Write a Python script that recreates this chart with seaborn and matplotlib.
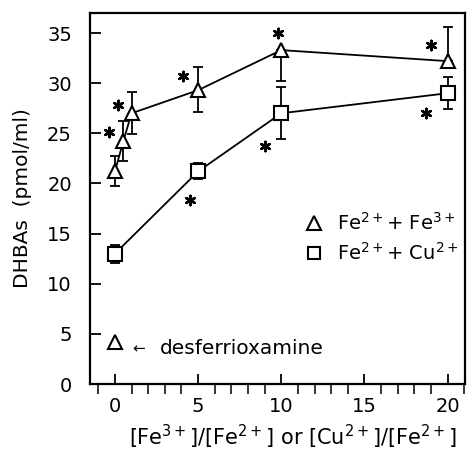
import matplotlib
matplotlib.use("Agg")
import matplotlib.pyplot as plt
from matplotlib.lines import Line2D
import numpy as np
import pandas as pd
import seaborn as sns

# Fe2+ + Fe3+ series
fe_x = [0, 0.5, 1, 5, 10, 20]
fe_y = [21.2, 24.2, 27.0, 29.3, 33.3, 32.2]
fe_err_low = [1.5, 2.0, 2.1, 2.2, 3.1, 0.0]
fe_err_high = [1.5, 2.0, 2.1, 2.3, 0.0, 3.4]

# Fe2+ + Cu2+ series
cu_x = [0, 5, 10, 20]
cu_y = [13.0, 21.2, 27.0, 29.0]
cu_err = [0.9, 0.8, 2.6, 1.6]

# control with desferrioxamine
desf_x = [0]
desf_y = [4.2]

# significance asterisks
star_x = [-0.35, 0.2, 4.1, 9.8, 19.0, 4.5, 9.0, 18.7]
star_y = [25.1, 27.8, 30.7, 35.0, 33.8, 18.4, 23.7, 27.0]

x_ticks = [0, 5, 10, 15, 20]
y_ticks = [0, 5, 10, 15, 20, 25, 30, 35]

sns.set_style("ticks")
plt.rcParams["font.family"] = ["DejaVu Sans"]
plt.rcParams["mathtext.default"] = "regular"
plt.rcParams["text.color"] = "black"
plt.rcParams["axes.labelcolor"] = "black"

df = pd.concat([
    pd.DataFrame({"ratio": fe_x, "dhba": fe_y, "series": "fe"}),
    pd.DataFrame({"ratio": cu_x, "dhba": cu_y, "series": "cu"}),
], ignore_index=True)

fig = plt.figure(figsize=(4.67, 4.54), dpi=100)
ax = fig.add_axes([90 / 467, 1 - 384 / 454, (465 - 90) / 467, (384 - 13) / 454])

lw = 1.3
ax.errorbar(fe_x, fe_y, yerr=[fe_err_low, fe_err_high], fmt="none",
            ecolor="black", elinewidth=lw, capsize=3.8, capthick=lw, zorder=2)
ax.errorbar(cu_x, cu_y, yerr=cu_err, fmt="none",
            ecolor="black", elinewidth=lw, capsize=3.8, capthick=lw, zorder=2)

sns.lineplot(data=df, x="ratio", y="dhba", style="series",
             markers={"fe": "^", "cu": "s"}, dashes=False, color="black",
             linewidth=lw, markersize=10, markerfacecolor="white",
             markeredgecolor="black", markeredgewidth=1.5,
             legend=False, ax=ax, zorder=3, sort=False, estimator=None)

ax.plot(desf_x, desf_y, linestyle="none", marker="^", markersize=10,
        markerfacecolor="white", markeredgecolor="black",
        markeredgewidth=1.5, zorder=3)
ax.text(1.05, 3.5, "\u2190", fontsize=11, va="center", ha="left")
ax.text(2.7, 3.5, "desferrioxamine", fontsize=14.5, va="center", ha="left")

ax.scatter(star_x, star_y, marker=(6, 2, 0), s=45, color="black",
           linewidths=1.8, zorder=4)

handles = [
    Line2D([], [], linestyle="none", marker="^", markersize=10,
           markerfacecolor="white", markeredgecolor="black",
           markeredgewidth=1.5),
    Line2D([], [], linestyle="none", marker="s", markersize=8,
           markerfacecolor="white", markeredgecolor="black",
           markeredgewidth=1.5),
]
ax.legend(handles, [r"Fe$^{2+}$+ Fe$^{3+}$", r"Fe$^{2+}$+ Cu$^{2+}$"],
          loc="center left", bbox_to_anchor=(0.575, 0.394), frameon=False,
          fontsize=14, handlelength=0.9, handletextpad=0.7,
          labelspacing=0.45, borderaxespad=0, borderpad=0)

ax.set_xlim(-1.5, 21.05)
ax.set_ylim(0, 37)
ax.set_xticks(x_ticks)
ax.set_xticks(np.arange(-1, 22, 1), minor=True)
ax.set_yticks(y_ticks)
ax.tick_params(axis="both", direction="in", width=1.3, labelsize=14,
               color="black", labelcolor="black")
ax.tick_params(axis="x", which="major", length=7, pad=9)
ax.tick_params(axis="x", which="minor", length=7, width=1.3)
ax.tick_params(axis="y", which="major", length=8, pad=13)
ax.tick_params(top=False, right=False)
for side in ["left", "bottom", "top", "right"]:
    ax.spines[side].set_visible(True)
    ax.spines[side].set_linewidth(1.6)
    ax.spines[side].set_color("black")

ax.set_xlabel(r"[Fe$^{3+}$]/[Fe$^{2+}$] or [Cu$^{2+}$]/[Fe$^{2+}$]",
              fontsize=15)
ax.xaxis.set_label_coords(0.54, -0.105)
ax.set_ylabel("DHBAs  (pmol/ml)", fontsize=14.5)
ax.yaxis.set_label_coords(-0.155, 0.5)

fig.savefig("out.png", dpi=100, facecolor="white")
